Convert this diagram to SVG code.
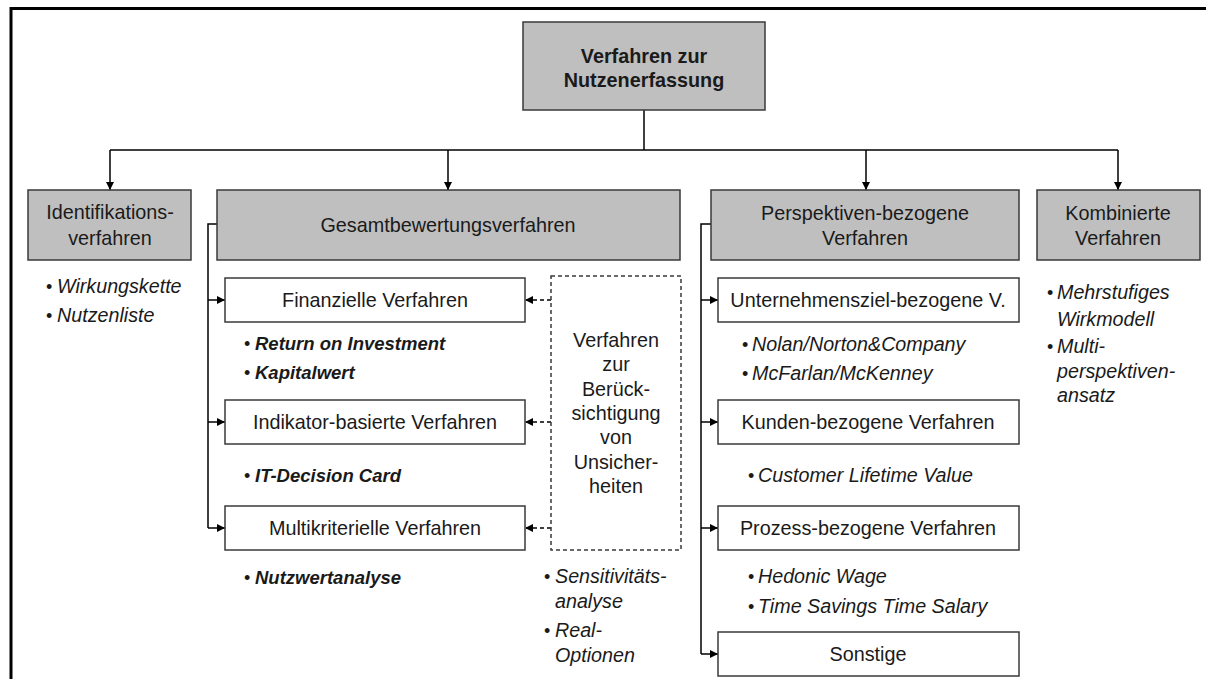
<svg xmlns="http://www.w3.org/2000/svg" width="1206" height="679" viewBox="0 0 1206 679">
  <style>
    text { font-family: "Liberation Sans", Arial, sans-serif; fill: #1a1a1a; }
    .head { fill: #bfbfbf; stroke: #3a3a3a; stroke-width: 1.5; }
    .sub { fill: #ffffff; stroke: #3a3a3a; stroke-width: 1.5; }
    .dash { fill: #ffffff; stroke: #3a3a3a; stroke-width: 1.5; stroke-dasharray: 4 3; }
    .lbl { font-size: 19.8px; text-anchor: middle; }
    .title { font-size: 19.8px; font-weight: bold; text-anchor: middle; }
    .it { font-size: 19.7px; font-style: italic; }
    .bi { font-size: 18.5px; font-style: italic; font-weight: bold; }
    .dot { font-size: 18px; }
    .wire { fill: none; stroke: #000; stroke-width: 1.5; }
    .dwire { fill: none; stroke: #000; stroke-width: 1.5; stroke-dasharray: 4 3; }
    .frame { fill: none; stroke: #000; stroke-width: 3; }
  </style>
  <defs>
    <marker id="arr" markerWidth="8" markerHeight="8" refX="8" refY="4" orient="auto" markerUnits="userSpaceOnUse">
      <path d="M0,0 L8,4 L0,8 Z" fill="#000"/>
    </marker>
  </defs>

  <rect width="1206" height="679" fill="#ffffff"/>
  <!-- outer frame (left and top edges) -->
  <path class="frame" d="M11,679 V8.5 H1206"/>

  <!-- connectors -->
  <g id="connectors">
    <path class="wire" d="M644,110 V150"/>
    <path class="wire" d="M110,150 H1118"/>
    <path class="wire" d="M110,150 V190" marker-end="url(#arr)"/>
    <path class="wire" d="M448,150 V190" marker-end="url(#arr)"/>
    <path class="wire" d="M866,150 V190" marker-end="url(#arr)"/>
    <path class="wire" d="M1118,150 V190" marker-end="url(#arr)"/>

    <!-- Gesamtbewertung bracket -->
    <path class="wire" d="M217,224 H208 V528"/>
    <path class="wire" d="M208,300 H225" marker-end="url(#arr)"/>
    <path class="wire" d="M208,422 H225" marker-end="url(#arr)"/>
    <path class="wire" d="M208,528 H225" marker-end="url(#arr)"/>

    <!-- uncertainty methods feed the three evaluation groups -->
    <path class="dwire" d="M551,300 H525" marker-end="url(#arr)"/>
    <path class="dwire" d="M551,422 H525" marker-end="url(#arr)"/>
    <path class="dwire" d="M551,528 H525" marker-end="url(#arr)"/>

    <!-- Perspektiven bracket -->
    <path class="wire" d="M711,224 H701 V654"/>
    <path class="wire" d="M701,300 H718" marker-end="url(#arr)"/>
    <path class="wire" d="M701,422 H718" marker-end="url(#arr)"/>
    <path class="wire" d="M701,528 H718" marker-end="url(#arr)"/>
    <path class="wire" d="M701,654 H718" marker-end="url(#arr)"/>
  </g>

  <!-- root -->
  <g id="root">
    <rect class="head" x="523" y="22" width="242" height="88"/>
    <text class="title" x="644" y="63">Verfahren zur</text>
    <text class="title" x="644" y="87">Nutzenerfassung</text>
  </g>

  <!-- level 1 -->
  <g id="identifikation">
    <rect class="head" x="28" y="190" width="163" height="70"/>
    <text class="lbl" x="110" y="219">Identifikations-</text>
    <text class="lbl" x="110" y="245">verfahren</text>
    <text class="dot" x="46" y="293">•</text>
    <text class="it" x="57" y="293">Wirkungskette</text>
    <text class="dot" x="46" y="322">•</text>
    <text class="it" x="57" y="322">Nutzenliste</text>
  </g>

  <g id="gesamt">
    <rect class="head" x="217" y="190" width="463" height="70"/>
    <text class="lbl" x="448" y="232">Gesamtbewertungsverfahren</text>
  </g>

  <g id="perspektiven">
    <rect class="head" x="711" y="190" width="308" height="70"/>
    <text class="lbl" x="865" y="220">Perspektiven-bezogene</text>
    <text class="lbl" x="865" y="245">Verfahren</text>
  </g>

  <g id="kombiniert">
    <rect class="head" x="1037" y="190" width="163" height="70"/>
    <text class="lbl" x="1118" y="220">Kombinierte</text>
    <text class="lbl" x="1118" y="245">Verfahren</text>
    <text class="dot" x="1047" y="299">•</text>
    <text class="it" x="1057" y="299">Mehrstufiges</text>
    <text class="it" x="1057" y="326">Wirkmodell</text>
    <text class="dot" x="1047" y="353">•</text>
    <text class="it" x="1057" y="353">Multi-</text>
    <text class="it" x="1057" y="378">perspektiven-</text>
    <text class="it" x="1057" y="402">ansatz</text>
  </g>

  <!-- Gesamtbewertung children -->
  <g id="finanziell">
    <rect class="sub" x="225" y="278" width="300" height="44"/>
    <text class="lbl" x="375" y="307">Finanzielle Verfahren</text>
    <text class="dot" x="244" y="350">•</text>
    <text class="bi" x="255" y="350">Return on Investment</text>
    <text class="dot" x="244" y="379">•</text>
    <text class="bi" x="255" y="379">Kapitalwert</text>
  </g>

  <g id="indikator">
    <rect class="sub" x="225" y="400" width="300" height="44"/>
    <text class="lbl" x="375" y="429">Indikator-basierte Verfahren</text>
    <text class="dot" x="244" y="482">•</text>
    <text class="bi" x="255" y="482">IT-Decision Card</text>
  </g>

  <g id="multikriteriell">
    <rect class="sub" x="225" y="506" width="300" height="44"/>
    <text class="lbl" x="375" y="535">Multikriterielle Verfahren</text>
    <text class="dot" x="244" y="584">•</text>
    <text class="bi" x="255" y="584">Nutzwertanalyse</text>
  </g>

  <g id="unsicherheit">
    <rect class="dash" x="551" y="276" width="130" height="274"/>
    <text class="lbl" x="616" y="347">Verfahren</text>
    <text class="lbl" x="616" y="371">zur</text>
    <text class="lbl" x="616" y="396">Berück-</text>
    <text class="lbl" x="616" y="420">sichtigung</text>
    <text class="lbl" x="616" y="444">von</text>
    <text class="lbl" x="616" y="469">Unsicher-</text>
    <text class="lbl" x="616" y="493">heiten</text>
    <text class="dot" x="544" y="583">•</text>
    <text class="it" x="555" y="583">Sensitivitäts-</text>
    <text class="it" x="555" y="608">analyse</text>
    <text class="dot" x="544" y="637">•</text>
    <text class="it" x="555" y="637">Real-</text>
    <text class="it" x="555" y="662">Optionen</text>
  </g>

  <!-- Perspektiven children -->
  <g id="unternehmensziel">
    <rect class="sub" x="718" y="278" width="301" height="44"/>
    <text class="lbl" x="868" y="307">Unternehmensziel-bezogene V.</text>
    <text class="dot" x="742" y="351">•</text>
    <text class="it" x="752" y="351">Nolan/Norton&amp;Company</text>
    <text class="dot" x="742" y="380">•</text>
    <text class="it" x="752" y="380">McFarlan/McKenney</text>
  </g>

  <g id="kunden">
    <rect class="sub" x="718" y="400" width="301" height="44"/>
    <text class="lbl" x="868" y="429">Kunden-bezogene Verfahren</text>
    <text class="dot" x="748" y="482">•</text>
    <text class="it" x="758" y="482">Customer Lifetime Value</text>
  </g>

  <g id="prozess">
    <rect class="sub" x="718" y="506" width="301" height="44"/>
    <text class="lbl" x="868" y="535">Prozess-bezogene Verfahren</text>
    <text class="dot" x="748" y="583">•</text>
    <text class="it" x="758" y="583">Hedonic Wage</text>
    <text class="dot" x="748" y="613">•</text>
    <text class="it" x="758" y="613">Time Savings Time Salary</text>
  </g>

  <g id="sonstige">
    <rect class="sub" x="718" y="632" width="301" height="44"/>
    <text class="lbl" x="868" y="661">Sonstige</text>
  </g>
</svg>
